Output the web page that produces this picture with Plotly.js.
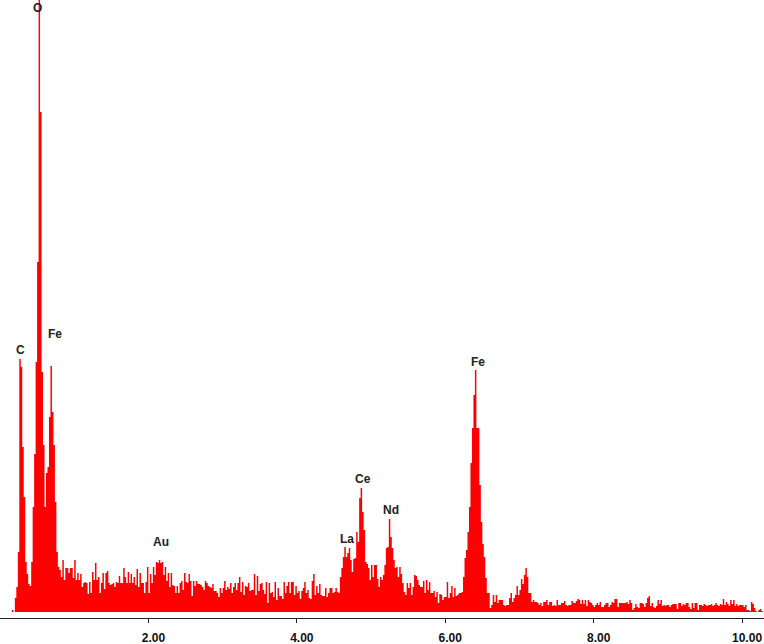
<!DOCTYPE html>
<html>
<head>
<meta charset="utf-8">
<script src="https://cdn.plot.ly/plotly-3.0.1.min.js"></script>
<style>body{margin:0;background:#fff}</style>
</head>
<body>
<div id="spectrum" style="width:764px;height:644px"></div>
<script>
// counts per 0.02 keV channel
var countsLow = [0,0,0,0,0,0,0,0,2,0,
  14,25,60,253,245,165,115,50,38,28,
  26,50,105,158,250,350,612,500,240,167,
  105,139,145,195,246,200,167,110,60,45];
var countsAu = [42,35,52,32,44,44,39,44,44,34,
  52,32,39,32,38,25,29,30,29,18,
  30,19,40,32,49,32,35,19,29,39,
  23,39,41,29,27,28,29,25,30,29,
  36,29,29,44,35,29,40,29,38,29,
  35,27,43,25,39,29,29,19,30,45,
  19,38,29,45,37,50,49,52,49,50,
  37,45,31,39,25,39,27,26,19,26,
  19,29,31,22,39,30,29,38,31,16,
  31,26,31,28];
var countsMid = [28,27,25,22,31,29,26,25,24,28,
  21,21,19,15,24,19,24,31,22,25,
  23,29,19,25,29,22,29,35,20,30,
  17,26,25,29,21,22,22,38,17,36,
  21,28,29,22,18,30,9,29,19,20,
  15,30,12,24,16,16,13,30,19,26,
  30,19,30,30,17,26,19,21,13,21,
  24,30,19,22,14,13,31,38,17,26,
  19,28,17,16,16,24,15,19,24,24,
  19,20];
var countsCeNd = [24,20,19,35,44,55,65,55,59,64,
  52,40,53,54,80,70,114,124,100,82,
  50,48,44,32,47,35,47,47,33,25,
  35,32,37,47,64,65,93,75,64,52,
  44,45,35,45,38,29,20,17,29,24,
  29,17,25,37,36,32,27,25,25,31,
  19,32,22,30,19,19,21,15,20,9,
  18,17,12,15,15,30,14,19,26,15,
  24,16,17,19];
var countsFe = [19,20,35,54,62,80,105,149,184,217,242,184,184,127,90,68,55,34,19,19,4,7,17,10,17];
var countsFeKb = [9,12,12,12,7,6,7,7,14,19,
  10,14,17,26,17,22,33,28,37,44,
  35,19,19,10,12,10,10,9,7,9,
  6,10,10,12,7,10,10,6,7,6,
  12,7,7,9,9,11,7,6,7,7,
  11,9,9,11,13,12,8,12,8,12,
  6,12,10,9,7,5,7,9,7,10,
  5,5,7,9,9,5,7,10,9,13,
  13,5,9,9,9,9,9,10,8];
var countsHigh = [12,9,2,4,8,5,4,9,9,8,
  5,9,14,16,6,9,5,4,6,12,
  8,12,6,7,6,7,7,5,7,8,
  8,8,3,9,9,6,8,7,9,9,
  5,3,9,4,9,9,2,7,7,6,
  8,7,6,7,7,8,6,7,9,7,
  6,8,7,13,7,10,8,6,12,8,
  12,6,8,6,7,7,7,5,7,2,
  2,1,10,8,4,1,0,2,3,1,0];

var peakNames = ['O','C','Fe','Au','La','Ce','Nd','Fe'];
var peakKeV = [0.51,0.28,0.74,2.17,4.68,4.89,5.27,6.44];
var peakCounts = [604,262,278,70,73,133,102,250];

var tickVals = [2,4,6,8,10];
var tickText = ['2.00','4.00','6.00','8.00','10.00'];

var counts = countsLow.concat(countsAu, countsMid, countsCeNd, countsFe, countsFeKb, countsHigh);

// stepped fill instead of bars, bars left hairline gaps between channels
var trace1 = {
  y: counts,
  x0: 0,
  dx: 0.02,
  type: 'scatter',
  mode: 'lines',
  line: {shape: 'hv', width: 0, color: '#ff0000'},
  fill: 'tozeroy',
  fillcolor: '#ff0000',
  hoverinfo: 'skip'
};

var labels = peakNames.map(function (name, i) {
  return {
    x: peakKeV[i], y: peakCounts[i], text: '<b>' + name + '</b>', showarrow: false,
    xanchor: 'center', yanchor: 'middle',
    font: {family: 'Liberation Sans', size: 12, color: '#222'}
  };
});

var layout = {
  width: 764,
  height: 644,
  margin: {l: 0, r: 0, t: 0, b: 26},
  paper_bgcolor: '#fff',
  plot_bgcolor: '#fff',
  showlegend: false,
  annotations: labels,
  xaxis: {
    range: [0, 10.296],
    tickmode: 'array',
    tickvals: tickVals,
    ticktext: tickText,
    ticks: 'outside',
    ticklen: 4,
    tickcolor: '#222',
    showgrid: false,
    zeroline: false,
    showline: true,
    linecolor: '#222',
    linewidth: 1,
    ticklabelshift: 5,
    ticklabelstandoff: 5,
    tickfont: {family: 'Liberation Sans', size: 12, color: '#111', weight: 'bold'}
  },
  // second axis only for the upper half of the tick marks
  xaxis2: {
    range: [0, 10.296],
    overlaying: 'x',
    anchor: 'y',
    side: 'bottom',
    tickmode: 'array',
    tickvals: tickVals,
    ticktext: ['', '', '', '', ''],
    ticks: 'inside',
    ticklen: 4,
    tickcolor: '#222',
    showgrid: false,
    zeroline: false
  },
  yaxis: {range: [-6, 612], visible: false, fixedrange: true}
};

Plotly.newPlot('spectrum', [trace1], layout, {displayModeBar: false});
</script>
</body>
</html>
